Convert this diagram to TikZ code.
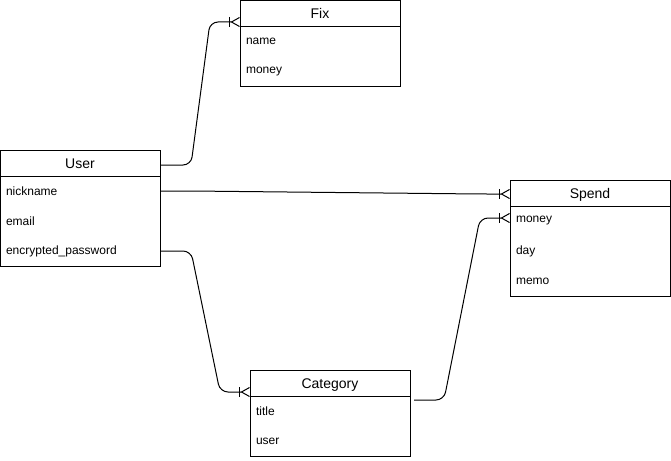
\documentclass[tikz,border=0pt]{standalone}
\usepackage{fontspec}
\setmainfont{Liberation Sans}
\usetikzlibrary{arrows.meta}
\tikzstyle{hd}=[draw=black,line width=1pt,outer sep=0pt,minimum width=160pt,minimum height=26pt,inner sep=0pt,text height=10pt,text depth=0pt,font=\fontsize{14}{16}\selectfont]
\tikzstyle{rw}=[text width=148pt,inner xsep=6pt,inner ysep=0pt,outer sep=0pt,minimum height=30pt,align=left,font=\fontsize{12}{14}\selectfont]
\tikzstyle{bx}=[draw=black,line width=1pt]
\tikzstyle{er}=[line width=1pt,rounded corners=8pt,-{Bar[width=10pt,line width=1pt,sep=0pt]Straight Barb[reversed,length=8pt,width=9pt,line width=1pt]}]

\begin{document}
\begin{tikzpicture}[x=1pt,y=-1pt]
\useasboundingbox (0,0) rectangle (671,460);
% User
\node[hd] (user) at (80,163) {User};
\node[rw] (nick) at (80,191) {nickname};
\node[rw] (email) at (80,221) {email};
\node[rw] (pass) at (80,251) {encrypted\_password};
\draw[bx] (user.south west) rectangle (pass.south east);
% Fix
\node[hd] (fix) at (320,13.5) {Fix};
\node[rw] (fixname) at (320,41.5) {name};
\node[rw] (fixmoney) at (320,71.5) {money};
\draw[bx] (fix.south west) rectangle (fixmoney.south east);
% Spend
\node[hd] (spend) at (590,193) {Spend};
\node[rw] (spmoney) at (590,221) {money};
\node[rw] (spday) at (590,251) {day};
\node[rw] (spmemo) at (590,281) {memo};
\draw[bx] (spend.south west) rectangle (spmemo.south east);
% Category
\node[hd] (cat) at (330,383) {Category};
\node[rw] (cattitle) at (330,411) {title};
\node[rw] (catuser) at (330,441) {user};
\draw[bx] (cat.south west) rectangle (catuser.south east);
% relations
\draw[er] ([xshift=1pt,yshift=-2pt]user.east) -- ++(30,0) -- ([xshift=-30pt,yshift=-8.5pt]fix.west) -- ([yshift=-8.5pt]fix.west);
\draw[er] ([xshift=1pt]nick.east) -- ++(30,0) -- ([xshift=-30pt,yshift=-1pt]spend.west) -- ([yshift=-1pt]spend.west);
\draw[er] ([xshift=1pt]pass.east) -- ++(30,0) -- ([xshift=-30pt,yshift=-9pt]cat.west) -- ([yshift=-9pt]cat.west);
\draw[er] ([xshift=4pt,yshift=-17pt]cat.east) -- ++(30,0) -- ([xshift=-30pt,yshift=3pt]spmoney.west) -- ([yshift=3pt]spmoney.west);
\end{tikzpicture}
\end{document}
